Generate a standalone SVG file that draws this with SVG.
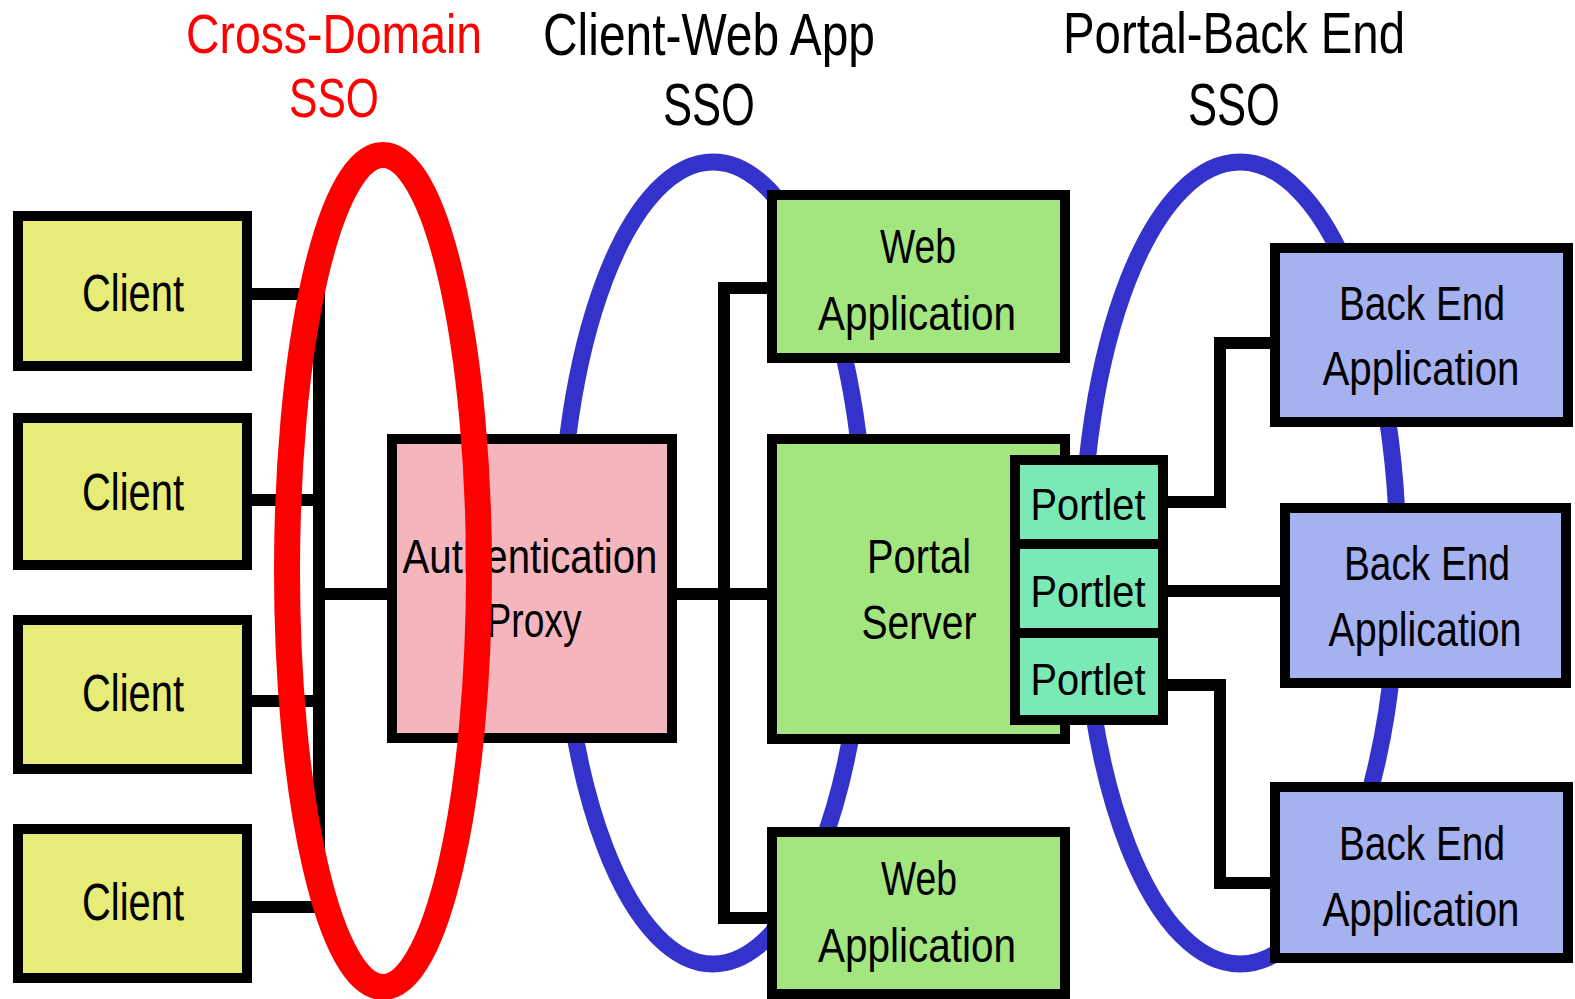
<svg xmlns="http://www.w3.org/2000/svg" width="1575" height="999" viewBox="0 0 1575 999">
<style>
text{font-family:"Liberation Sans","Arial",sans-serif;text-anchor:middle}
.t{font-size:56px}
.b{font-size:48px;fill:#000}
.c{font-size:51px;fill:#000}
.p{font-size:45px;fill:#000}
.box{stroke:#000;stroke-width:10}
.client{fill:#e7eb78}
.proxy{fill:#f5b5bd}
.green{fill:#a3e57f}
.portlet{fill:#7ae8b7}
.be{fill:#a6b1f0}
.blue{fill:none;stroke:#3333cc;stroke-width:17}
.con{fill:none;stroke:#000;stroke-width:12;stroke-linejoin:miter}
</style>
<rect width="1575" height="999" fill="#fff"/>
<g id="sso-rings">
<ellipse class="blue" cx="713" cy="563" rx="153" ry="401"/>
<ellipse class="blue" cx="1240" cy="563" rx="158" ry="401"/>
</g>
<g id="connectors">
<path class="con" d="M247 294H319M247 500H319M247 701H319M247 907H319M319 594H392"/>
<line class="con" x1="319" y1="294" x2="319" y2="907" stroke-linecap="square"/>
<path class="con" d="M672 594H772"/>
<path class="con" d="M772 288H724V918H772"/>
<path class="con" d="M1163 502H1220V343H1275"/>
<path class="con" d="M1163 591H1285"/>
<path class="con" d="M1163 685H1220V883H1275"/>
</g>
<g id="client1"><rect class="box client" x="18" y="216" width="229" height="150"/><text class="c" x="133" y="311" textLength="102" lengthAdjust="spacingAndGlyphs">Client</text></g>
<g id="client2"><rect class="box client" x="18" y="418" width="229" height="147"/><text class="c" x="133" y="510" textLength="102" lengthAdjust="spacingAndGlyphs">Client</text></g>
<g id="client3"><rect class="box client" x="18" y="620" width="229" height="149"/><text class="c" x="133" y="711" textLength="102" lengthAdjust="spacingAndGlyphs">Client</text></g>
<g id="client4"><rect class="box client" x="18" y="829" width="229" height="149"/><text class="c" x="133" y="920" textLength="102" lengthAdjust="spacingAndGlyphs">Client</text></g>
<g id="auth-proxy"><rect class="box proxy" x="392" y="439" width="280" height="299"/>
<text class="b" x="530" y="573" textLength="255" lengthAdjust="spacingAndGlyphs">Authentication</text>
<text class="b" x="534" y="637" textLength="95" lengthAdjust="spacingAndGlyphs">Proxy</text></g>
<g id="webapp1"><rect class="box green" x="772" y="195" width="293" height="163"/>
<text class="b" x="918" y="263" textLength="76" lengthAdjust="spacingAndGlyphs">Web</text>
<text class="b" x="917" y="330" textLength="198" lengthAdjust="spacingAndGlyphs">Application</text></g>
<g id="portal-server"><rect class="box green" x="772" y="439" width="293" height="300"/>
<text class="b" x="919" y="573" textLength="104" lengthAdjust="spacingAndGlyphs">Portal</text>
<text class="b" x="919" y="639" textLength="115" lengthAdjust="spacingAndGlyphs">Server</text></g>
<g id="portlet1"><rect class="box portlet" x="1015" y="460" width="148" height="84"/><text class="p" x="1088" y="520" textLength="115" lengthAdjust="spacingAndGlyphs">Portlet</text></g>
<g id="portlet2"><rect class="box portlet" x="1015" y="544" width="148" height="89"/><text class="p" x="1088" y="607" textLength="115" lengthAdjust="spacingAndGlyphs">Portlet</text></g>
<g id="portlet3"><rect class="box portlet" x="1015" y="633" width="148" height="87"/><text class="p" x="1088" y="695" textLength="115" lengthAdjust="spacingAndGlyphs">Portlet</text></g>
<g id="webapp2"><rect class="box green" x="772" y="832" width="293" height="162"/>
<text class="b" x="919" y="895" textLength="76" lengthAdjust="spacingAndGlyphs">Web</text>
<text class="b" x="917" y="962" textLength="198" lengthAdjust="spacingAndGlyphs">Application</text></g>
<g id="backend1"><rect class="box be" x="1275" y="248" width="293" height="174"/>
<text class="b" x="1422" y="320" textLength="166" lengthAdjust="spacingAndGlyphs">Back End</text>
<text class="b" x="1421" y="385" textLength="197" lengthAdjust="spacingAndGlyphs">Application</text></g>
<g id="backend2"><rect class="box be" x="1285" y="508" width="281" height="175"/>
<text class="b" x="1427" y="580" textLength="166" lengthAdjust="spacingAndGlyphs">Back End</text>
<text class="b" x="1425" y="646" textLength="193" lengthAdjust="spacingAndGlyphs">Application</text></g>
<g id="backend3"><rect class="box be" x="1275" y="787" width="293" height="171"/>
<text class="b" x="1422" y="860" textLength="166" lengthAdjust="spacingAndGlyphs">Back End</text>
<text class="b" x="1421" y="926" textLength="197" lengthAdjust="spacingAndGlyphs">Application</text></g>
<g id="cross-domain-ring">
<ellipse cx="383" cy="571" rx="96" ry="416" fill="none" stroke="#ff0000" stroke-width="26"/>
</g>
<g id="titles">
<text class="t" x="334" y="53" fill="#ff0000" textLength="296" lengthAdjust="spacingAndGlyphs">Cross-Domain</text>
<text class="t" x="334" y="117" fill="#ff0000" textLength="90" lengthAdjust="spacingAndGlyphs">SSO</text>
<text class="t" x="709" y="55" fill="#000" style="font-size:59px" textLength="332" lengthAdjust="spacingAndGlyphs">Client-Web App</text>
<text class="t" x="709" y="125" fill="#000" style="font-size:59px" textLength="92" lengthAdjust="spacingAndGlyphs">SSO</text>
<text class="t" x="1234" y="53" fill="#000" style="font-size:58px" textLength="342" lengthAdjust="spacingAndGlyphs">Portal-Back End</text>
<text class="t" x="1234" y="125" fill="#000" style="font-size:59px" textLength="92" lengthAdjust="spacingAndGlyphs">SSO</text>
</g>
</svg>
